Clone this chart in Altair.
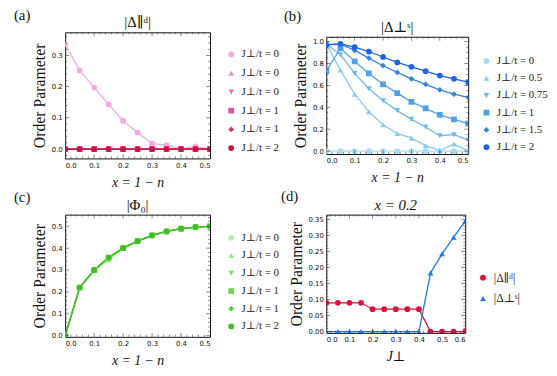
import altair as alt
import pandas as pd

SERIF = "Liberation Serif, DejaVu Serif, serif"
SANS = "DejaVu Sans, Liberation Sans, sans-serif"

x_doping = [0.0, 0.05, 0.1, 0.15, 0.2, 0.25, 0.3, 0.35, 0.4, 0.45, 0.5]
j_labels = ["J⊥/t = 0", "J⊥/t = 0.5", "J⊥/t = 0.75", "J⊥/t = 1", "J⊥/t = 1.5", "J⊥/t = 2"]
shapes6 = ["circle", "triangle-up", "triangle-down", "square", "diamond", "circle"]

# (a) |Δ_∥^d|
a_j0 = [0.335, 0.252, 0.197, 0.143, 0.090, 0.053, 0.018, 0.013, 0.001, 0.009, 0.0]
a_j05 = [0.0] * 11
a_j075 = [0.0] * 11
a_j1 = [0.0] * 11
a_j15 = [0.0] * 11
a_j2 = [0.0] * 11

# (b) |Δ_⊥^s|
b_j0 = [0.0] * 11
b_j05 = [0.98, 0.74, 0.52, 0.36, 0.24, 0.16, 0.12, 0.05, 0.005, 0.065, 0.0]
b_j075 = [0.98, 0.88, 0.71, 0.57, 0.46, 0.37, 0.29, 0.22, 0.14, 0.15, 0.10]
b_j1 = [0.73, 0.94, 0.82, 0.71, 0.61, 0.53, 0.45, 0.39, 0.33, 0.29, 0.25]
b_j15 = [0.97, 0.98, 0.92, 0.85, 0.78, 0.72, 0.66, 0.61, 0.56, 0.52, 0.49]
b_j2 = [0.97, 0.98, 0.95, 0.91, 0.86, 0.81, 0.77, 0.73, 0.69, 0.66, 0.63]

# (c) |Φ_0|
c_j0 = [0.0, 0.22, 0.30, 0.345, 0.40, 0.432, 0.458, 0.476, 0.489, 0.496, 0.499]
c_j05 = [0.0, 0.22, 0.30, 0.350, 0.40, 0.432, 0.458, 0.476, 0.489, 0.496, 0.499]
c_j075 = [0.0, 0.22, 0.30, 0.355, 0.40, 0.432, 0.458, 0.476, 0.489, 0.496, 0.499]
c_j1 = [0.0, 0.22, 0.30, 0.357, 0.40, 0.432, 0.458, 0.476, 0.489, 0.496, 0.499]
c_j15 = [0.0, 0.22, 0.30, 0.357, 0.40, 0.432, 0.458, 0.476, 0.489, 0.496, 0.499]
c_j2 = [0.0, 0.22, 0.30, 0.357, 0.40, 0.432, 0.458, 0.476, 0.489, 0.496, 0.499]

# (d) x = 0.2
d_jperp = [0.0, 0.05, 0.1, 0.15, 0.2, 0.25, 0.3, 0.35, 0.4, 0.45, 0.5, 0.55, 0.6]
d_labels = ["|Δ∥ᵈ|", "|Δ⊥ˢ|"]
d_par = [0.09, 0.09, 0.09, 0.09, 0.07, 0.07, 0.07, 0.07, 0.07, 0.0, 0.0, 0.0, 0.0]
d_perp = [0.0, 0.0, 0.0, 0.0, 0.0, 0.0, 0.0, 0.0, 0.0, 0.183, 0.243, 0.295, 0.345]

panel_tags = ["(a)", "(b)", "(c)", "(d)"]
titles = ["|Δ∥ᵈ|", "|Δ⊥ˢ|", "|Φ₀|", "x = 0.2"]

# axis tick values (major, labelled) and minor tick steps
xt_dop = [0.0, 0.1, 0.2, 0.3, 0.4, 0.5]
xt_j = [0.0, 0.1, 0.2, 0.3, 0.4, 0.5, 0.6]
yt_a = [0.0, 0.1, 0.2, 0.3]
yt_b = [0.0, 0.2, 0.4, 0.6, 0.8, 1.0]
yt_c = [0.0, 0.1, 0.2, 0.3, 0.4, 0.5]
yt_d = [0.0, 0.05, 0.1, 0.15, 0.2, 0.25, 0.3, 0.35]

pinks = ["#f4aade", "#f092cc", "#ea72b6", "#e2509a", "#da3070", "#d0103c"]
blues = ["#a8dcf4", "#8ccbf0", "#70b8ec", "#50a0e8", "#3484e4", "#1e64e0"]
greens = ["#b2f0aa", "#9ae892", "#82e072", "#6ad652", "#52cc34", "#40c020"]
d_colors = ["#e0103c", "#1e78f0"]


def long_df(xs, series_list, labels):
    rows = []
    for lab, ys in zip(labels, series_list):
        for xv, yv in zip(xs, ys):
            rows.append({"x": xv, "y": yv, "series": lab})
    return pd.DataFrame(rows)


def minor(dom, step):
    n0 = int(round(dom[0] / step)) - 1
    n1 = int(round(dom[1] / step)) + 1
    return [round(k * step, 6) for k in range(n0, n1 + 1) if dom[0] < k * step < dom[1]]


def frame_ticks(xdom, xmaj, xstep, ydom, ymaj, ystep, w, h, xsc, ysc, xax, yax):
    layers = []
    xmin = [v for v in minor(xdom, xstep) if all(abs(v - m) > 1e-9 for m in xmaj)]
    ymin = [v for v in minor(ydom, ystep) if all(abs(v - m) > 1e-9 for m in ymaj)]
    xmaj_in = [v for v in xmaj if xdom[0] < v < xdom[1]]
    ymaj_in = [v for v in ymaj if ydom[0] < v < ydom[1]]
    for vals, ln in ((xmaj_in, 4), (xmin, 2)):
        if not vals:
            continue
        d = pd.DataFrame({"x": vals})
        for yy in (ln / 2, h - ln / 2):
            layers.append(alt.Chart(d).mark_tick(orient="vertical", size=ln, thickness=0.8,
                                                 color="#333").encode(
                x=alt.X("x:Q", scale=xsc, axis=xax), y=alt.value(yy)))
    for vals, ln in ((ymaj_in, 4), (ymin, 2)):
        if not vals:
            continue
        d = pd.DataFrame({"y": vals})
        for xx in (ln / 2, w - ln / 2):
            layers.append(alt.Chart(d).mark_tick(orient="horizontal", size=ln, thickness=0.8,
                                                 color="#333").encode(
                y=alt.Y("y:Q", scale=ysc, axis=yax), x=alt.value(xx)))
    return layers


def panel(df, labels, colors, shapes, title, tag, xtitle, xdom, xticks, xstep, ydom, yticks,
          ystep, yfmt, w, h, lx, ly, truncate, rowpad, lfs, tagpos, title_italic=False):
    leg_kw = dict(orient="none", legendX=lx, legendY=ly, title=None, labelFont=SERIF,
                  labelFontSize=lfs, labelColor="#222", symbolSize=34, rowPadding=rowpad,
                  padding=0, labelOffset=5, symbolStrokeWidth=0)
    if truncate:
        leg_kw["labelExpr"] = "substring(datum.label, 0, 8)"
    leg = alt.Legend(**leg_kw)
    color = alt.Color("series:N", scale=alt.Scale(domain=labels, range=colors), legend=leg,
                      sort=labels)
    shape = alt.Shape("series:N", scale=alt.Scale(domain=labels, range=shapes), legend=leg,
                      sort=labels)
    xsc = alt.Scale(domain=xdom, nice=False, zero=False)
    ysc = alt.Scale(domain=ydom, nice=False, zero=False)
    xax = alt.Axis(values=xticks, format=".1f", title=xtitle, titleFontStyle="italic",
                   titleFontSize=14, titlePadding=7, labelOverlap=False)
    yax = alt.Axis(values=yticks, format=yfmt, title="Order Parameter",
                   titleFontSize=16, titlePadding=4, labelOverlap=False)
    x = alt.X("x:Q", scale=xsc, axis=xax)
    y = alt.Y("y:Q", scale=ysc, axis=yax)
    base = alt.Chart(df)
    lines = base.mark_line(strokeWidth=1.3, clip=True).encode(x=x, y=y, color=color,
                                                                 order=alt.Order("x:Q"))
    pts = base.mark_point(filled=True, size=34, opacity=1, clip=True).encode(
        x=x, y=y, color=color, shape=shape)
    tagc = alt.Chart(pd.DataFrame({"t": [tag]})).mark_text(
        align="left", baseline="middle", font=SERIF, fontSize=15, color="#111"
    ).encode(text="t:N", x=alt.value(tagpos[0]), y=alt.value(tagpos[1]))
    titc = alt.Chart(pd.DataFrame({"t": [title]})).mark_text(
        align="center", baseline="middle", font=SERIF, fontSize=15, color="#111",
        fontStyle="italic" if title_italic else "normal"
    ).encode(text="t:N", x=alt.value(w / 2), y=alt.value(-10))
    ticks = frame_ticks(xdom, xticks, xstep, ydom, yticks, ystep, w, h, xsc, ysc, xax, yax)
    return alt.layer(lines, pts, *ticks, tagc, titc).properties(width=w, height=h)


df_a = long_df(x_doping, [a_j0, a_j05, a_j075, a_j1, a_j15, a_j2], j_labels)
df_b = long_df(x_doping, [b_j0, b_j05, b_j075, b_j1, b_j15, b_j2], j_labels)
df_c = long_df(x_doping, [c_j0, c_j05, c_j075, c_j1, c_j15, c_j2], j_labels)
df_d = long_df(d_jperp, [d_par, d_perp], d_labels)

pa = panel(df_a, j_labels, pinks, shapes6, titles[0], panel_tags[0], "x = 1 − n", [0, 0.5],
           xt_dop, 0.02, [-0.03, 0.374], yt_a, 0.02, ".1f", 147, 128, 163, 17, True, 7, 11,
           (-52, -18))
pb = panel(df_b, j_labels, blues, shapes6, titles[1], panel_tags[1], "x = 1 − n", [0, 0.5],
           xt_dop, 0.02, [-0.027, 1.045], yt_b, 0.05, ".1f", 144, 119, 157, 19, False,
           5.5, 11, (-43, -21))
pc = panel(df_c, j_labels, greens, shapes6, titles[2], panel_tags[2], "x = 1 − n", [0, 0.5],
           xt_dop, 0.02, [-0.005, 0.553], yt_c, 0.02, ".1f", 147, 124, 163, 18, True,
           6, 11, (-52, -18))
pd_ = panel(df_d, d_labels, d_colors, ["circle", "triangle-up"], titles[3], panel_tags[3], "J⊥",
            [0, 0.6], xt_j, 0.02, [-0.004, 0.3655], yt_d, 0.01, ".2f", 141, 120, 153, 58,
            False, 9, 12, (-46, -19), title_italic=True)


def build(pad_top):
    return alt.concat(
        pa, pb, pc, pd_, columns=2, spacing={"row": 57, "column": 118}, bounds="flush",
        center=True
    ).resolve_scale(
        color="independent", shape="independent", x="independent", y="independent"
    ).properties(
        padding={"left": 5, "top": pad_top, "right": 0, "bottom": 0}
    ).configure_view(
        stroke="#111", strokeWidth=1
    ).configure_axis(
        domain=False, ticks=False, grid=False, labelFont=SANS, labelFontSize=7,
        labelColor="#111", labelPadding=3, titleFont=SERIF, titleFontWeight="normal",
        titleColor="#111"
    )


try:
    chart = build(-4)
    chart.to_dict()
except Exception:
    chart = build(0)

chart.save("out.html", embed_options={"renderer": "svg", "actions": False})
